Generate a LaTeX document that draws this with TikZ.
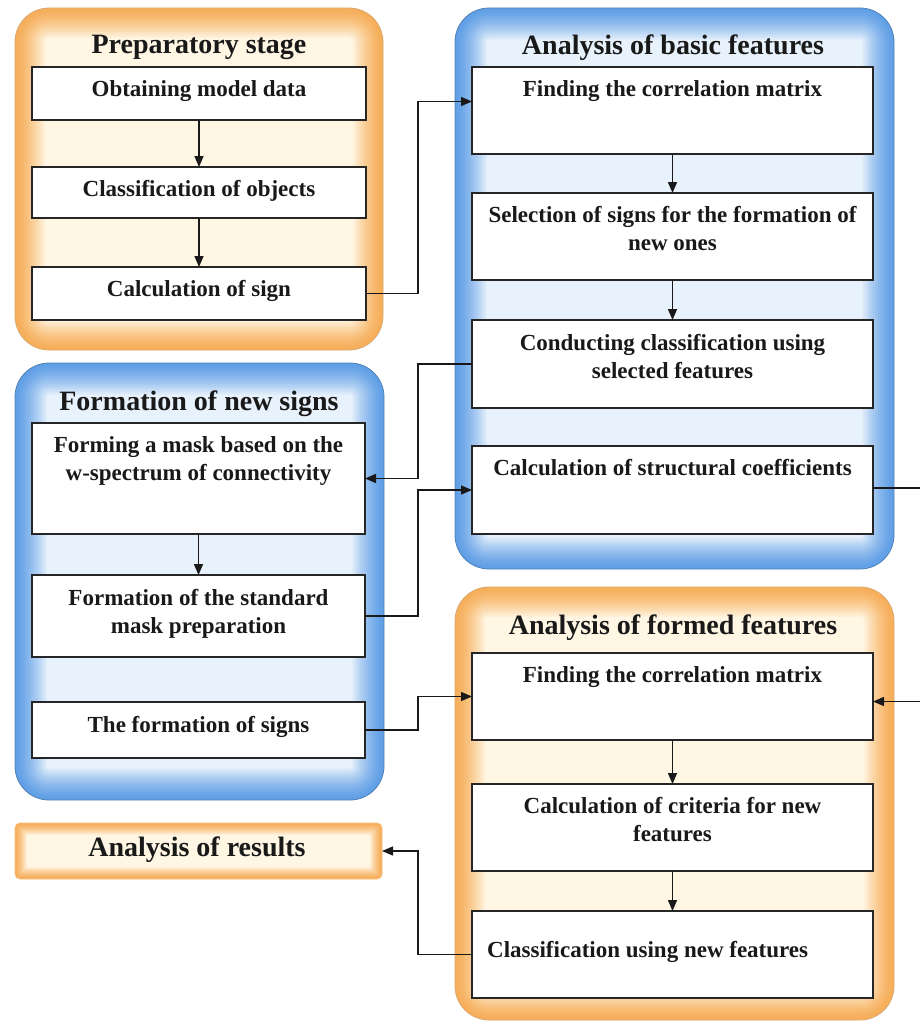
\documentclass[tikz,border=0pt]{standalone}
\usepackage{fontspec}
\setmainfont{Liberation Serif}
\usetikzlibrary{arrows.meta}
\definecolor{oOut}{HTML}{F6AE5A}
\definecolor{oIn}{HTML}{FFF6E4}
\definecolor{bOut}{HTML}{62A0E6}
\definecolor{bIn}{HTML}{E8F2FC}
\newcommand\mkbox[6]{\node[#6, minimum width={#4-#2}, minimum height={#5-#3}] (#1) at ({(#2+#4)/2},{(#3+#5)/2}) {};}
% glow: x1 y1 x2 y2 radius outer inner step
\newcommand\glow[8]{%
  \foreach \i in {0,...,20} {
    \pgfmathsetmacro\d{\i*#8}
    \pgfmathtruncatemacro\p{100*(\i/20)^1.4}
    \pgfmathsetmacro\r{max(#5-\d,2)}
    \fill[#7!\p!#6, rounded corners=\r pt] ({#1+\d},{#2+\d}) rectangle ({#3-\d},{#4-\d});
  }}
\begin{document}
\begin{tikzpicture}[x=1pt,y=-1pt,
  grp/.style={rounded corners=34pt, line width=0.8pt, inner sep=0pt, outer sep=0pt},
  ogrp/.style={grp, draw=oOut!85!black!80},
  bgrp/.style={grp, draw=bOut!80!black},
  rbox/.style={grp, rounded corners=5pt, draw=oOut!80},
  stepbox/.style={draw=black!85, fill=white, line width=1.3pt, inner sep=0pt, outer sep=0pt},
  txt/.style={font=\bfseries\fontsize{23}{28}\selectfont, align=center, inner sep=0pt, text=black!90},
  ttl/.style={font=\bfseries\fontsize{28}{32}\selectfont, inner sep=0pt, anchor=base, text=black!90},
  conn/.style={line width=1.4pt, draw=black!90},
  arr/.style={conn, -{Triangle[length=11pt,width=9pt]}}]
\useasboundingbox[fill=white] (0,0) rectangle (920,1025);

% group backgrounds (inner glow)
\glow{15}{8}{383}{350}{34}{oOut}{oIn}{1.5}
\glow{455}{8}{894}{569}{34}{bOut}{bIn}{1.6}
\glow{15}{363}{384}{800}{34}{bOut}{bIn}{1.6}
\glow{455}{587}{894}{1020}{34}{oOut}{oIn}{1.5}
\glow{15}{823}{382}{879}{5}{oOut}{oIn}{0.6}

% groups
\mkbox{GP}{15}{8}{383}{350}{ogrp}
\mkbox{GA}{455}{8}{894}{569}{bgrp}
\mkbox{GF}{15}{363}{384}{800}{bgrp}
\mkbox{GB}{455}{587}{894}{1020}{ogrp}
\mkbox{R}{15}{823}{382}{879}{rbox}

% titles
\node[ttl] (tGP) at (199,53) {Preparatory stage};
\node[ttl] (tGA) at (673,55) {Analysis of basic features};
\node[ttl] (tGF) at (199,410) {Formation of new signs};
\node[ttl] (tGB) at (673,634) {Analysis of formed features};
\node[ttl] (tR) at (197,856) {Analysis of results};

% step boxes
\mkbox{P1}{32}{67}{366}{120}{stepbox}
\mkbox{P2}{32}{167}{366}{218}{stepbox}
\mkbox{P3}{32}{267}{366}{320}{stepbox}
\mkbox{A1}{472}{67}{873}{154}{stepbox}
\mkbox{A2}{472}{193}{873}{280}{stepbox}
\mkbox{A3}{472}{320}{873}{408}{stepbox}
\mkbox{A4}{472}{446}{873}{534}{stepbox}
\mkbox{F1}{32}{423}{365}{534}{stepbox}
\mkbox{F2}{32}{575}{365}{657}{stepbox}
\mkbox{F3}{32}{702}{365}{758}{stepbox}
\mkbox{B1}{472}{653}{873}{740}{stepbox}
\mkbox{B2}{472}{784}{873}{871}{stepbox}
\mkbox{B3}{472}{911}{873}{998}{stepbox}

% texts
\node[txt, anchor=north] (tP1) at ([yshift=-13pt]P1.north) {Obtaining model data};
\node[txt, anchor=north] (tP2) at ([yshift=-13pt]P2.north) {Classification of objects};
\node[txt, anchor=north] (tP3) at ([yshift=-13pt]P3.north) {Calculation of sign};
\node[txt, anchor=north] (tA1) at ([yshift=-13pt]A1.north) {Finding the correlation matrix};
\node[txt, anchor=north] (tA2) at ([yshift=-13pt]A2.north) {Selection of signs for the formation of\\new ones};
\node[txt, anchor=north] (tA3) at ([yshift=-14pt]A3.north) {Conducting classification using\\selected features};
\node[txt, anchor=north] (tA4) at ([yshift=-13pt]A4.north) {Calculation of structural coefficients};
\node[txt, anchor=north] (tF1) at ([yshift=-13pt]F1.north) {Forming a mask based on the\\w-spectrum of connectivity};
\node[txt, anchor=north] (tF2) at ([yshift=-14pt]F2.north) {Formation of the standard\\mask preparation};
\node[txt, anchor=north] (tF3) at ([yshift=-14pt]F3.north) {The formation of signs};
\node[txt, anchor=north] (tB1) at ([yshift=-13pt]B1.north) {Finding the correlation matrix};
\node[txt, anchor=north] (tB2) at ([yshift=-13pt]B2.north) {Calculation of criteria for new\\features};
\node[txt, anchor=north west] (tB3) at (487,941) {Classification using new features};

% connectors
\coordinate (kL) at (418,0);
\coordinate (kR) at (935,0);
\draw[arr] (P1) -- (P2);
\draw[arr] (P2) -- (P3);
\draw[arr] (A1) -- (A2);
\draw[arr] (A2) -- (A3);
\draw[arr] (F1) -- (F2);
\draw[arr] (B1) -- (B2);
\draw[arr] (B2) -- (B3);
\draw[arr] (P3.east) -| ([yshift=9pt]kL |- A1.west) -- ([yshift=9pt]A1.west);
\draw[arr] (A3.west) -| (kL |- F1.east) -- (F1.east);
\draw[arr] (F2.east) -| (kL |- A4.west) -- (A4.west);
\draw[arr] (F3.east) -| (kL |- B1.west) -- (B1.west);
\draw[arr] ([yshift=2pt]A4.east) -| ([yshift=-5pt]kR |- B1.east) -- ([yshift=-5pt]B1.east);
\draw[arr] (B3.west) -| (kL |- R.east) -- (R.east);
\end{tikzpicture}
\end{document}
